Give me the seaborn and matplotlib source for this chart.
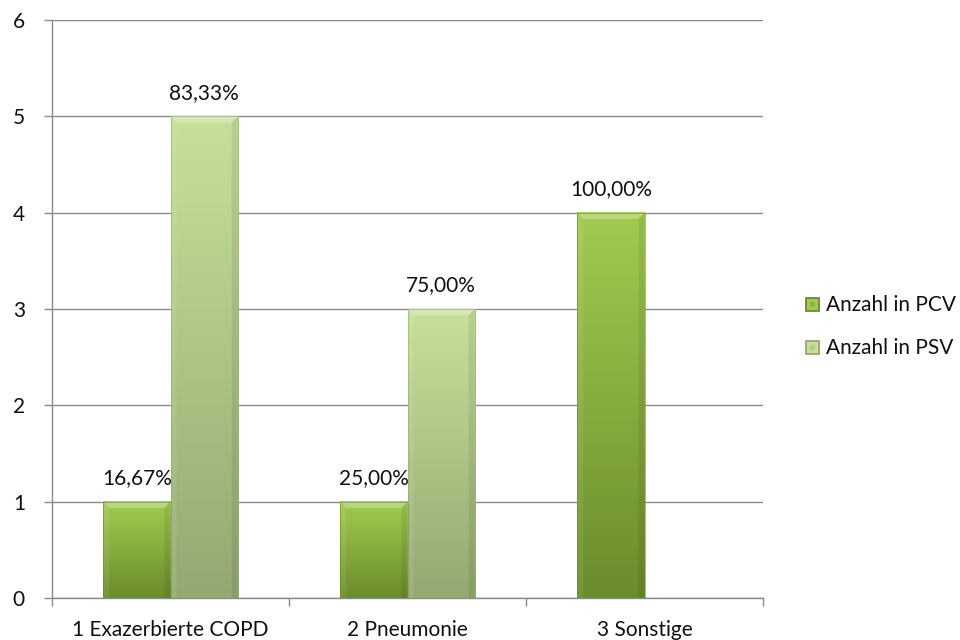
import numpy as np
import pandas as pd
import matplotlib
matplotlib.use("Agg")
import matplotlib.pyplot as plt
from matplotlib.patches import Polygon, Rectangle
from matplotlib.colors import LinearSegmentedColormap
import seaborn as sns

categories = ["1 Exazerbierte COPD", "2 Pneumonie", "3 Sonstige"]
series = ["Anzahl in PCV", "Anzahl in PSV"]
pcv_counts = [1, 1, 4]
psv_counts = [5, 3, 0]
pcv_labels = ["16,67%", "25,00%", "100,00%"]
psv_labels = ["83,33%", "75,00%", ""]

df = pd.DataFrame({
    "Kategorie": categories * 2,
    "Serie": [series[0]] * 3 + [series[1]] * 3,
    "Anzahl": pcv_counts + psv_counts,
    "Label": pcv_labels + psv_labels,
})

sns.set_theme(style="white")
plt.rcParams["font.family"] = ["Lato", "DejaVu Sans"]
FS = 15
TXT = "#111111"

# (top colour, bottom colour) for each series
shades = {
    series[0]: ("#a2cb50", "#6a8c2c"),
    series[1]: ("#c6e09a", "#94a972"),
}

W, H = 960, 640
fig = plt.figure(figsize=(W / 100, H / 100), dpi=100)
ax = fig.add_axes([52 / W, 1 - 598 / H, (763 - 52) / W, (598 - 20) / H])

sns.barplot(data=df, x="Kategorie", y="Anzahl", hue="Serie",
            hue_order=series, order=categories, width=0.567,
            palette=[shades[s][0] for s in series], ax=ax,
            legend=False, saturation=1, zorder=3)

ax.set_xlim(-0.5, 2.5)
ax.set_ylim(0, 6)
ax.set_yticks(range(0, 7))
ax.set_xlabel("")
ax.set_ylabel("")

# gridlines and spines
ax.grid(axis="y", color="#8a8a8a", linewidth=1.0, zorder=0)
ax.set_axisbelow(True)
for side in ["top", "right"]:
    ax.spines[side].set_visible(False)
for side in ["left", "bottom"]:
    ax.spines[side].set_color("#8a8a8a")
    ax.spines[side].set_linewidth(1.0)

# category boundary tick marks on x, labels centred without marks
ax.set_xticks(np.arange(len(categories)))
ax.set_xticklabels(categories, fontsize=FS, color=TXT)
ax.tick_params(axis="x", which="major", length=0, pad=16)
ax.set_xticks(np.arange(-0.5, len(categories)), minor=True)
ax.tick_params(axis="x", which="minor", length=5.5, width=1.0, color="#8a8a8a",
               direction="out", bottom=True)
ax.tick_params(axis="y", length=6, width=1.0, color="#8a8a8a", direction="out",
               left=True, labelsize=FS, labelcolor=TXT, pad=13.5)


def bevel_bar(ax, x0, w, h, top, bottom):
    """Fill a bar with a vertical gradient and a bevelled top/side edge."""
    cmap = LinearSegmentedColormap.from_list("g", [bottom, top])
    grad = np.linspace(0, 1, 256).reshape(-1, 1)
    ax.imshow(grad, cmap=cmap, origin="lower", aspect="auto",
              extent=[x0, x0 + w, 0, h], zorder=3, interpolation="bicubic")
    bx = w * 0.09
    by = 0.065
    top_band = Polygon([[x0, h], [x0 + w, h], [x0 + w - bx, h - by],
                        [x0 + bx, h - by]], closed=True,
                       facecolor="white", alpha=0.28, lw=0, zorder=4)
    left_band = Polygon([[x0, 0], [x0, h], [x0 + bx, h - by], [x0 + bx, 0]],
                        closed=True, facecolor="white", alpha=0.08, lw=0, zorder=4)
    right_band = Polygon([[x0 + w, 0], [x0 + w, h], [x0 + w - bx, h - by],
                          [x0 + w - bx, 0]], closed=True,
                         facecolor="black", alpha=0.07, lw=0, zorder=4)
    for p in (top_band, left_band, right_band):
        ax.add_patch(p)
    ax.add_patch(Rectangle((x0, 0), w, h, fill=False,
                           edgecolor=bottom, lw=0.6, alpha=0.7, zorder=5))


# repaint each bar with gradient shading and label it
bars = list(ax.patches)
labels = pcv_labels + psv_labels
series_of_bar = [series[0]] * 3 + [series[1]] * 3
for bar, lab, s in zip(bars, labels, series_of_bar):
    h = bar.get_height()
    bar.set_visible(False)
    if h <= 0:
        continue
    x0, w = bar.get_x(), bar.get_width()
    top, bottom = shades[s]
    bevel_bar(ax, x0, w, h, top, bottom)
    ax.annotate(lab, (x0 + w / 2, h), xytext=(0, 12.6),
                textcoords="offset points", ha="center", va="baseline",
                fontsize=FS, color=TXT, zorder=6)

ax.set_xlim(-0.5, 2.5)
ax.set_ylim(0, 6)

# legend to the right of the plot
for i, s in enumerate(series):
    base = 311 + 43 * i
    top, bottom = shades[s]
    sq = Rectangle((806 / W, 1 - base / H), 13 / W, 13 / H,
                   transform=fig.transFigure, facecolor=top,
                   edgecolor=bottom, lw=1.3)
    fig.patches.append(sq)
    inner = Rectangle((810 / W, 1 - (base - 4) / H), 5 / W, 5 / H,
                      transform=fig.transFigure, facecolor=bottom,
                      alpha=0.35, lw=0)
    fig.patches.append(inner)
    fig.text(826 / W, 1 - base / H, s, ha="left", va="baseline",
             fontsize=FS, color=TXT)

fig.savefig("out.png", dpi=100, facecolor="white")
